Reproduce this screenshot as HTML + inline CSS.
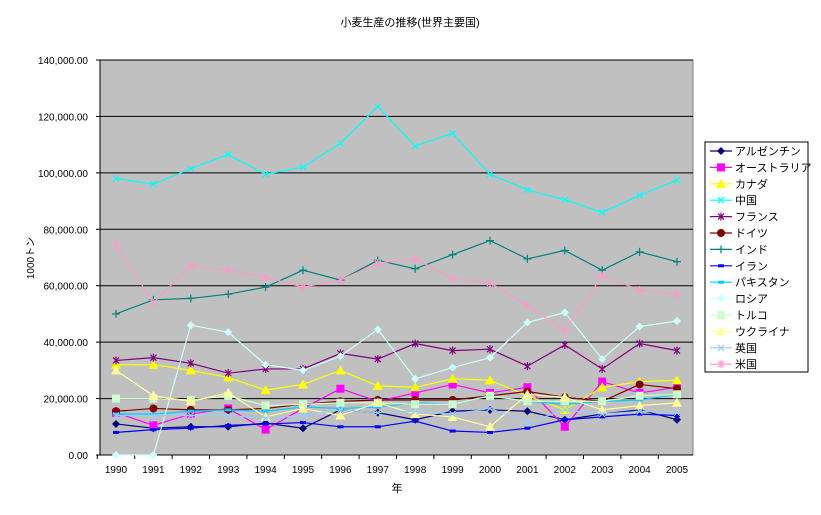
<!DOCTYPE html>
<html><head><meta charset="utf-8"><style>
body{margin:0;background:#fff;font-family:"Liberation Sans","Noto Sans CJK JP",sans-serif}
text{font-family:"Liberation Sans","Noto Sans CJK JP",sans-serif}
</style></head><body>
<svg id="c" width="821" height="510"></svg>
<script>
const years=["1990","1991","1992","1993","1994","1995","1996","1997","1998","1999","2000","2001","2002","2003","2004","2005"];
const yTicks=[0,20000,40000,60000,80000,100000,120000,140000];
const names=["アルゼンチン","オーストラリア","カナダ","中国","フランス","ドイツ","インド","イラン","パキスタン","ロシア","トルコ","ウクライナ","英国","米国"];
const argentina=[11,9.5,10,10,11.3,9.5,16,15,12.5,15.5,16,15.5,12.5,14.5,16,12.5];
const australia=[15,10.5,14.5,16.5,9,16.5,23.5,19,22,25,22,24,10,26,22,24];
const canada=[32,32,30,27.5,23,25,30,24.5,24,27,26.5,21,16,24,26,26.5];
const china=[98,96,101.5,106.5,99.5,102,110.5,123.5,109.5,114,99.5,94,90.5,86,92,97.5];
const france=[33.5,34.5,32.5,29,30.5,30.5,36,34,39.5,37,37.5,31.5,39,30.5,39.5,37];
const germany=[15.5,16.5,16,16,16.5,18,19,19.5,19.5,19.5,21,22.5,20.5,19,25,23.5];
const india=[50,55,55.5,57,59.5,65.5,62,69,66,71,76,69.5,72.5,65.5,72,68.5];
const iran=[8,9,9.5,10.5,11,11.5,10,10,12,8.5,8,9.5,12.5,13.5,14.5,14];
const pakistan=[14.5,14.5,15.5,16,15.5,17,16.5,17,18.5,18,21,19,18,19,19.5,21.5];
const russia=[0,0,46,43.5,32,30,35,44.5,27,31,34.5,47,50.5,34,45.5,47.5];
const turkey=[20,20,19.5,21,17.5,18,18.5,18.5,18,18,21,19,19,19,21,21.5];
const ukraine=[30,21,19,22,13.5,16.5,14,18.5,14.5,13.5,10,21.5,20.5,16,17.5,18.5];
const uk=[14,14,14,14,13,14,16,15,15.5,14.5,16.5,11.5,16,14.5,15.5,15];
const usa=[74.5,54,67,65.5,63,59.5,62,68,69.5,62.5,61,53,44,63.5,58.5,57];
const series=[argentina,australia,canada,china,france,germany,india,iran,pakistan,russia,turkey,ukraine,uk,usa];
const colors=["#000080","#FF00FF","#FFFF00","#00FFFF","#800080","#800000","#008080","#0000FF","#00CCFF","#CCFFFF","#CCFFCC","#FFFF99","#99CCFF","#FF99CC"];
const markers=["diamond","square","triangle","x","star","circle","plus","dash","dash","diamond","square","triangle","x","star"];
const NS="http://www.w3.org/2000/svg",svg=document.getElementById('c');
const L=100,R=693,T=60,B=455;
const xs=i=>116+i*(677-116)/(years.length-1);
const ys=v=>B-(v/140000)*(B-T);
function el(t,a,p){const e=document.createElementNS(NS,t);for(const k in a)e.setAttribute(k,a[k]);(p||svg).appendChild(e);return e;}
function mk(g,type,x,y,c){
 if(type=="diamond")el('path',{d:`M${x} ${y-4}L${x+4} ${y}L${x} ${y+4}L${x-4} ${y}Z`,fill:c},g);
 else if(type=="square")el('rect',{x:x-4,y:y-4,width:8,height:8,fill:c},g);
 else if(type=="triangle")el('path',{d:`M${x} ${y-5}L${x+5} ${y+4}L${x-5} ${y+4}Z`,fill:c},g);
 else if(type=="circle")el('circle',{cx:x,cy:y,r:4,fill:c},g);
 else if(type=="x")el('path',{d:`M${x-3} ${y-3}L${x+3} ${y+3}M${x+3} ${y-3}L${x-3} ${y+3}`,stroke:c,'stroke-width':1.2},g);
 else if(type=="star")el('path',{d:`M${x-3} ${y-3}L${x+3} ${y+3}M${x+3} ${y-3}L${x-3} ${y+3}M${x} ${y-4}L${x} ${y+4}`,stroke:c,'stroke-width':1.2},g);
 else if(type=="plus")el('path',{d:`M${x-4} ${y}L${x+4} ${y}M${x} ${y-4}L${x} ${y+4}`,stroke:c,'stroke-width':1.2},g);
 else if(type=="dash")el('rect',{x:x-3,y:y-1.5,width:6,height:3,fill:c},g);
}
const t=el('text',{x:410,y:26,'font-size':11,'text-anchor':'middle'});t.textContent="小麦生産の推移(世界主要国)";


const pa=el('rect',{x:L,y:T,width:R-L,height:B-T,fill:'#C0C0C0',stroke:'#808080'});


yTicks.forEach(v=>{
 const y=ys(v);
 if(v>0){const g=el('line',{x1:L,x2:R,y1:y,y2:y,stroke:'#000'});}
 el('line',{x1:L-4,x2:L,y1:y,y2:y,stroke:'#000'});
 const tx=el('text',{x:88,y:y+4,'font-size':10,'text-anchor':'end'});
 tx.textContent=v.toLocaleString('en-US',{minimumFractionDigits:2});
 
 
});
el('line',{x1:L,x2:L,y1:T,y2:B,stroke:'#000'});
el('line',{x1:L,x2:R,y1:B,y2:B,stroke:'#000'});
years.forEach((yr,i)=>{
 const x=xs(i);
 el('line',{x1:x-18.7,x2:x-18.7,y1:B,y2:B+4,stroke:'#000'});
 const tx=el('text',{x:x,y:473,'font-size':10,'text-anchor':'middle'});tx.textContent=yr;
 
 
});
const xt=el('text',{x:397,y:492,'font-size':11,'text-anchor':'middle'});xt.textContent="年";


const yt=el('text',{x:0,y:0,'font-size':10,'text-anchor':'middle',transform:'translate(34,258) rotate(-90)'});yt.textContent="1000トン";


series.forEach((s,k)=>{
 const g=el('g',{});
 
 
 el('polyline',{points:s.map((v,i)=>xs(i)+','+ys(v*1000)).join(' '),fill:'none',stroke:colors[k],'stroke-width':1.2},g);
 s.forEach((v,i)=>mk(g,markers[k],xs(i),ys(v*1000),colors[k]));
});
const lg=el('g',{});


el('rect',{x:705,y:142,width:103,height:230,fill:'#fff',stroke:'#000'},lg);
names.forEach((n,k)=>{
 const y=151+k*16.4;
 const e=el('g',{},lg);
 
 
 el('line',{x1:710,x2:732,y1:y,y2:y,stroke:colors[k],'stroke-width':1.2},e);
 mk(e,markers[k],721,y,colors[k]);
 const tx=el('text',{x:735,y:y+4,'font-size':11},e);tx.textContent=n;
});
</script>
</body></html>
